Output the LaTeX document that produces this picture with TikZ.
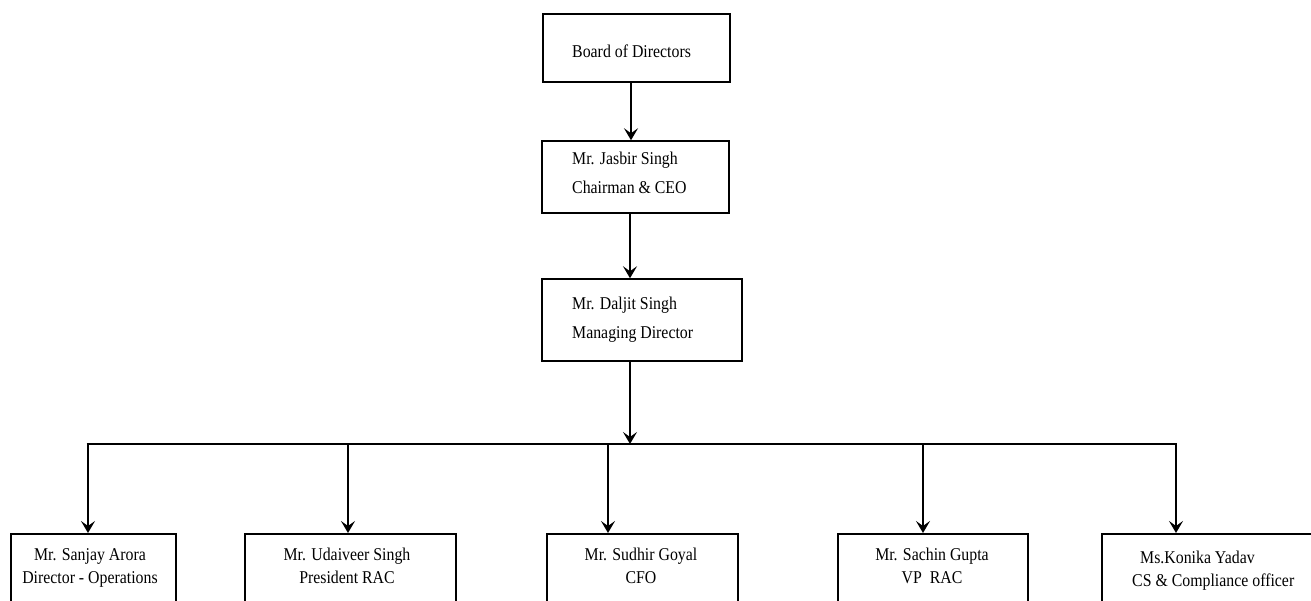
\documentclass[tikz,border=0pt]{standalone}
\usepackage{fontspec}
\setmainfont[FakeStretch=0.88]{Liberation Serif}
\usetikzlibrary{arrows.meta}
\begin{document}
\begin{tikzpicture}[x=1pt,y=1pt,
  box/.style={draw=black,line width=1.5pt,rectangle,inner sep=0pt},
  lbl/.style={font=\fontsize{18}{20}\selectfont,inner sep=0pt},
  arr/.style={line width=2.8pt,-{Stealth[length=12pt,width=14pt,inset=5pt]}},
  bus/.style={line width=2.8pt}]
\useasboundingbox (0,0) rectangle (1311,-601);
\clip (0,0) rectangle (1311,-601);
\fill[white] (0,0) rectangle (1311,-601);
% top column boxes
\node[box,minimum width=187pt,minimum height=68pt] (bod) at (636.5,-48) {};
\node[box,minimum width=187pt,minimum height=72pt] (js) at (635.5,-177) {};
\node[box,minimum width=200pt,minimum height=82pt] (ds) at (642,-320) {};
\node[lbl,anchor=base west] (tbod) at (572,-58) {Board of Directors};
\node[lbl,anchor=base west] (tjs1) at (572,-165) {Mr. Jasbir Singh};
\node[lbl,anchor=base west] (tjs2) at (572,-194) {Chairman \& CEO};
\node[lbl,anchor=base west] (tds1) at (572,-310) {Mr. Daljit Singh};
\node[lbl,anchor=base west] (tds2) at (572,-338) {Managing Director};
% bottom boxes
\node[box,anchor=north,minimum width=165pt,minimum height=100pt] (sa) at (93.5,-533) {};
\node[box,anchor=north,minimum width=211pt,minimum height=100pt] (us) at (350.5,-533) {};
\node[box,anchor=north,minimum width=191pt,minimum height=100pt] (sg) at (642.5,-533) {};
\node[box,anchor=north,minimum width=190pt,minimum height=100pt] (sgu) at (933,-533) {};
\node[box,anchor=north west,minimum width=240pt,minimum height=100pt] (ky) at (1101,-533) {};
\node[lbl,anchor=base] (tsa1) at (90,-560) {Mr. Sanjay Arora};
\node[lbl,anchor=base] (tsa2) at (90,-583) {Director - Operations};
\node[lbl,anchor=base] (tus1) at (347,-560) {Mr. Udaiveer Singh};
\node[lbl,anchor=base] (tus2) at (347,-583) {President RAC};
\node[lbl,anchor=base] (tsg1) at (641,-560) {Mr. Sudhir Goyal};
\node[lbl,anchor=base] (tsg2) at (641,-583) {CFO};
\node[lbl,anchor=base] (tsgu1) at (932,-560) {Mr. Sachin Gupta};
\node[lbl,anchor=base] (tsgu2) at (932,-583) {VP\ \ RAC};
\node[lbl,anchor=base west] (tky1) at (1140,-563) {Ms.Konika Yadav};
\node[lbl,anchor=base west] (tky2) at (1132,-586) {CS \& Compliance\ officer};
% connectors
\coordinate (xa) at (631,0);
\coordinate (xb) at (630,0);
\draw[arr] (bod.south -| xa) -- (js.north -| xa);
\draw[arr] (js.south -| xb) -- (ds.north -| xb);
\coordinate (busL) at (88,-444);
\coordinate (busR) at (1176,-444);
\draw[arr] (ds.south -| xb) -- (xb |- busL);
\draw[bus] ([xshift=-1.4pt]busL) -- ([xshift=1.4pt]busR);
\coordinate (d1) at (88,-444);
\coordinate (d2) at (348,-444);
\coordinate (d3) at (608,-444);
\coordinate (d4) at (923,-444);
\coordinate (d5) at (1176,-444);
\draw[arr] (d1) -- (sa.north -| d1);
\draw[arr] (d2) -- (us.north -| d2);
\draw[arr] (d3) -- (sg.north -| d3);
\draw[arr] (d4) -- (sgu.north -| d4);
\draw[arr] (d5) -- (ky.north -| d5);
\end{tikzpicture}
\end{document}
